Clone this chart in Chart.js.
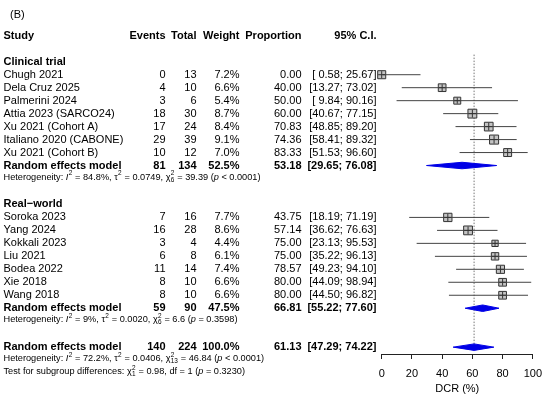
<!DOCTYPE html>
<html><head><meta charset="utf-8">
<script src="https://cdn.jsdelivr.net/npm/chart.js@4.4.0/dist/chart.umd.min.js"></script>
<style>html,body{margin:0;padding:0;background:#fff;} canvas{display:block;}</style>
</head><body>
<canvas id="c" width="550" height="398"></canvas>
<script>
// ---------- data ----------
const panelLabel = '(B)';
const columnHeaders = ['Study', 'Events', 'Total', 'Weight', 'Proportion', '95% C.I.'];
const groupTitles = ['Clinical trial', 'Real\u2212world'];

const ctStudies = ['Chugh 2021', 'Dela Cruz 2025', 'Palmerini 2024', 'Attia 2023 (SARCO24)', 'Xu 2021 (Cohort A)', 'Italiano 2020 (CABONE)', 'Xu 2021 (Cohort B)'];
const ctEvents  = [0, 4, 3, 18, 17, 29, 10];
const ctTotals  = [13, 10, 6, 30, 24, 39, 12];
const ctWeights = [7.2, 6.6, 5.4, 8.7, 8.4, 9.1, 7.0];
const ctProps   = [0.00, 40.00, 50.00, 60.00, 70.83, 74.36, 83.33];
const ctLower   = [0.58, 13.27, 9.84, 40.67, 48.85, 58.41, 51.53];
const ctUpper   = [25.67, 73.02, 90.16, 77.15, 89.20, 89.32, 96.60];

const rwStudies = ['Soroka 2023', 'Yang 2024', 'Kokkali 2023', 'Liu 2021', 'Bodea 2022', 'Xie 2018', 'Wang 2018'];
const rwEvents  = [7, 16, 3, 6, 11, 8, 8];
const rwTotals  = [16, 28, 4, 8, 14, 10, 10];
const rwWeights = [7.7, 8.6, 4.4, 6.1, 7.4, 6.6, 6.6];
const rwProps   = [43.75, 57.14, 75.00, 75.00, 78.57, 80.00, 80.00];
const rwLower   = [18.19, 36.62, 23.13, 35.22, 49.23, 44.09, 44.50];
const rwUpper   = [71.19, 76.63, 95.53, 96.13, 94.10, 98.94, 96.82];

const modelLabel   = 'Random effects model';
const modelEvents  = [81, 59, 140];
const modelTotals  = [134, 90, 224];
const modelWeights = [52.5, 47.5, 100.0];
const modelEst     = [53.18, 66.81, 61.13];
const modelLower   = [29.65, 55.22, 47.29];
const modelUpper   = [76.08, 77.60, 74.22];

const hetI2   = ['84.8%', '9%', '72.2%'];
const hetTau2 = ['0.0749', '0.0020', '0.0406'];
const hetDf   = ['6', '6', '13'];
const hetQ    = ['39.39', '6.6', '46.84'];
const hetP    = ['< 0.0001', '= 0.3598', '< 0.0001'];

const testChi2 = '0.98';
const testDf   = '1';
const testP    = '= 0.3230';

const xTicks = [0, 20, 40, 60, 80, 100];
const xTitle = 'DCR (%)';

// ---------- layout constants ----------
const ROW_H = 13.25;      // px per row
const TOP_Y = 29;         // px of row 0
const AXIS_Y = 354;       // px of x axis line
const FONT = '"Liberation Sans", Arial, Helvetica, sans-serif';
const FS = 11;
const HFS = 9.2;
const COL_X = {events: 165.5, total: 196.5, weight: 239.5, prop: 301.5, ci: 376.5, name: 3.5};

// ---------- build rows ----------
const groups = [
  {title: groupTitles[0], names: ctStudies, ev: ctEvents, tot: ctTotals, w: ctWeights, p: ctProps, lo: ctLower, hi: ctUpper},
  {title: groupTitles[1], names: rwStudies, ev: rwEvents, tot: rwTotals, w: rwWeights, p: rwProps, lo: rwLower, hi: rwUpper}
];
let row = 2;
const titleRows = [], studyRows = [], modelRows = [], hetRows = [];
groups.forEach((g, gi) => {
  titleRows.push(row); row++;
  g.names.forEach((n, i) => { studyRows.push({g: gi, i, row}); row++; });
  modelRows.push(row); row++;
  hetRows.push(row); row += 2;
});
modelRows.push(row);
hetRows.push(row + 1);
const testRow = row + 2;

const boxSide = w => 3 * Math.sqrt(w);
const studyPts = studyRows.map(s => ({x: groups[s.g].p[s.i], y: s.row}));
const studyW = studyRows.map(s => groups[s.g].w[s.i]);
const ciData = [];
studyRows.forEach(s => {
  const g = groups[s.g];
  ciData.push({x: g.lo[s.i], y: s.row}, {x: g.hi[s.i], y: s.row}, {x: g.hi[s.i], y: null});
});

const DH = 0.25; // diamond half height in rows
const diamondSets = modelEst.map((est, k) => ({
  data: [
    {x: modelLower[k], y: modelRows[k]},
    {x: est, y: modelRows[k] - DH},
    {x: modelUpper[k], y: modelRows[k]},
    {x: est, y: modelRows[k] + DH},
    {x: modelLower[k], y: modelRows[k]}
  ],
  showLine: true, fill: 'shape', tension: 0,
  backgroundColor: '#0000e6', borderColor: '#0000e6', borderWidth: 1,
  pointRadius: 0, clip: false
}));

// ---------- text plugin ----------
function fmtCI(lo, hi) {
  return '[' + lo.toFixed(2).padStart(5, ' ') + '; ' + hi.toFixed(2).padStart(5, ' ') + ']';
}
function drawRich(ctx, x, y, parts, size) {
  let cx = x;
  ctx.textAlign = 'left';
  ctx.textBaseline = 'middle';
  for (const p of parts) {
    if (typeof p === 'string') {
      ctx.font = size + 'px ' + FONT;
      ctx.fillText(p, cx, y);
      cx += ctx.measureText(p).width;
    } else if (p.i !== undefined) {
      ctx.font = 'italic ' + size + 'px ' + FONT;
      ctx.fillText(p.i, cx, y);
      cx += ctx.measureText(p.i).width;
    } else {
      const s = size * 0.7;
      ctx.font = s + 'px ' + FONT;
      let w = 0;
      if (p.sup) { ctx.fillText(p.sup, cx + 0.3, y - size * 0.38); w = Math.max(w, ctx.measureText(p.sup).width); }
      if (p.sub) { ctx.fillText(p.sub, cx + 0.3, y + size * 0.32); w = Math.max(w, ctx.measureText(p.sub).width); }
      cx += w + 0.6;
    }
  }
}

const textPlugin = {
  id: 'forestText',
  afterDraw(chart) {
    const ctx = chart.ctx;
    const ys = chart.scales.y;
    const py = r => ys.getPixelForValue(r);
    ctx.save();
    ctx.fillStyle = '#000';
    ctx.textBaseline = 'middle';
    const txt = (s, x, y, align, bold, size) => {
      ctx.font = (bold ? 'bold ' : '') + (size || FS) + 'px ' + FONT;
      ctx.textAlign = align;
      ctx.fillText(s, x, y);
    };
    // panel label
    txt(panelLabel, 10, py(0) - 21, 'left', false);
    // headers
    const hy = py(0);
    txt(columnHeaders[0], COL_X.name, hy, 'left', true);
    txt(columnHeaders[1], COL_X.events, hy, 'right', true);
    txt(columnHeaders[2], COL_X.total, hy, 'right', true);
    txt(columnHeaders[3], COL_X.weight, hy, 'right', true);
    txt(columnHeaders[4], COL_X.prop, hy, 'right', true);
    txt(columnHeaders[5], COL_X.ci, hy, 'right', true);
    // group titles
    groups.forEach((g, gi) => txt(g.title, COL_X.name, py(titleRows[gi]), 'left', true));
    // studies
    studyRows.forEach(s => {
      const g = groups[s.g], i = s.i, y = py(s.row);
      txt(g.names[i], COL_X.name, y, 'left', false);
      txt(String(g.ev[i]), COL_X.events, y, 'right', false);
      txt(String(g.tot[i]), COL_X.total, y, 'right', false);
      txt(g.w[i].toFixed(1) + '%', COL_X.weight, y, 'right', false);
      txt(g.p[i].toFixed(2), COL_X.prop, y, 'right', false);
      txt(fmtCI(g.lo[i], g.hi[i]), COL_X.ci, y, 'right', false);
    });
    // models
    modelRows.forEach((r, k) => {
      const y = py(r);
      txt(modelLabel, COL_X.name, y, 'left', true);
      txt(String(modelEvents[k]), COL_X.events, y, 'right', true);
      txt(String(modelTotals[k]), COL_X.total, y, 'right', true);
      txt(modelWeights[k].toFixed(1) + '%', COL_X.weight, y, 'right', true);
      txt(modelEst[k].toFixed(2), COL_X.prop, y, 'right', true);
      txt(fmtCI(modelLower[k], modelUpper[k]), COL_X.ci, y, 'right', true);
    });
    // heterogeneity
    hetRows.forEach((r, k) => {
      drawRich(ctx, COL_X.name, py(r) - 1.5, [
        'Heterogeneity: ', {i: 'I'}, {sup: '2'}, ' = ' + hetI2[k] + ', \u03C4', {sup: '2'},
        ' = ' + hetTau2[k] + ', \u03C7', {sup: '2', sub: hetDf[k]}, ' = ' + hetQ[k] + ' (', {i: 'p'}, ' ' + hetP[k] + ')'
      ], HFS);
    });
    drawRich(ctx, COL_X.name, py(testRow) - 1.5, [
      'Test for subgroup differences: \u03C7', {sup: '2', sub: testDf}, ' = ' + testChi2 + ', df = ' + testDf + ' (', {i: 'p'}, ' ' + testP + ')'
    ], HFS);
    ctx.restore();
  }
};

// ---------- chart ----------
new Chart(document.getElementById('c'), {
  type: 'scatter',
  data: {
    datasets: [
      { // crosses inside boxes
        data: studyPts, pointStyle: 'cross',
        pointRadius: studyW.map(w => boxSide(w) / 2 - 0.5),
        borderColor: '#333', borderWidth: 1, clip: false
      },
      { // confidence intervals
        data: ciData, showLine: true, spanGaps: false, pointRadius: 0,
        borderColor: '#444', borderWidth: 1, clip: false
      },
      { // boxes
        data: studyPts, pointStyle: 'rect',
        pointRadius: studyW.map(w => boxSide(w) / Math.SQRT2),
        backgroundColor: '#c4c4c4', borderColor: '#333', borderWidth: 1, clip: false
      },
      ...diamondSets,
      { // reference line at overall estimate
        data: [{x: modelEst[2], y: 1.45}, {x: modelEst[2], y: modelRows[2] + 0.35}],
        showLine: true, pointRadius: 0, borderColor: '#777', borderWidth: 1,
        borderDash: [1.5, 1.5], clip: false
      }
    ]
  },
  options: {
    responsive: false,
    animation: false,
    events: [],
    layout: {padding: {left: 381.7, right: 11.7, top: 0, bottom: 0}},
    plugins: {legend: {display: false}, tooltip: {enabled: false}},
    scales: {
      x: {
        type: 'linear', min: 0, max: 100,
        afterBuildTicks: s => { s.ticks = xTicks.map(v => ({value: v})); },
        afterFit: s => { s.height = 398 - AXIS_Y; },
        ticks: {font: {size: FS, family: FONT}, color: '#000', padding: 8, maxRotation: 0},
        grid: {drawOnChartArea: false, drawTicks: true, tickLength: 5, color: '#222', lineWidth: 1},
        border: {display: true, color: '#222', width: 1},
        title: {display: true, text: xTitle, color: '#000', font: {size: FS, family: FONT}, padding: {top: 0, bottom: 2}}
      },
      y: {
        type: 'linear', reverse: true, display: false,
        min: -TOP_Y / ROW_H, max: (AXIS_Y - TOP_Y) / ROW_H
      }
    }
  },
  plugins: [textPlugin]
});
</script>
</body></html>
